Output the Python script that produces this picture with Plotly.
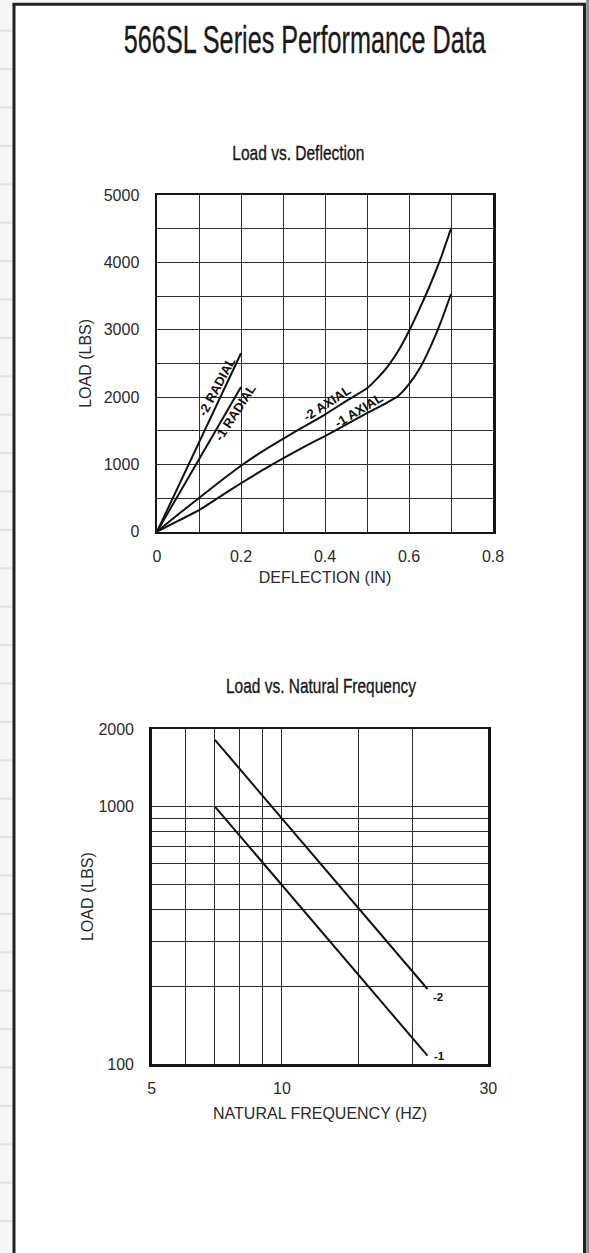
import numpy as np
import plotly.graph_objects as go

W, H = 589, 1253

# ---------------- data: Load vs. Deflection ----------------
defl_radial = [0.0, 0.2]
load_radial_2 = [0, 2650]
load_radial_1 = [0, 2150]

defl_axial_2 = [0, 0.05, 0.1, 0.15, 0.2, 0.25, 0.3, 0.35, 0.4, 0.45, 0.5, 0.525, 0.55, 0.575, 0.6, 0.625, 0.65, 0.675, 0.7]
load_axial_2 = [0, 255, 500, 745, 980, 1190, 1380, 1560, 1740, 1940, 2130, 2280, 2460, 2690, 2980, 3310, 3660, 4050, 4500]
defl_axial_1 = [0, 0.05, 0.1, 0.15, 0.2, 0.25, 0.3, 0.35, 0.4, 0.45, 0.5, 0.55, 0.575, 0.6, 0.625, 0.65, 0.675, 0.7]
load_axial_1 = [0, 160, 320, 520, 720, 910, 1090, 1260, 1420, 1590, 1760, 1925, 2020, 2190, 2420, 2730, 3100, 3530]

x1_ticks = [0, 0.1, 0.2, 0.3, 0.4, 0.5, 0.6, 0.7, 0.8]
x1_text = ["0", "", "0.2", "", "0.4", "", "0.6", "", "0.8"]
y1_ticks = [0, 500, 1000, 1500, 2000, 2500, 3000, 3500, 4000, 4500, 5000]
y1_text = ["0", "", "1000", "", "2000", "", "3000", "", "4000", "", "5000"]

# ---------------- data: Load vs. Natural Frequency ----------------
freq_1 = [7.0, 21.7]
load_freq_1 = [1000, 108]
freq_2 = [7.0, 21.7]
load_freq_2 = [1815, 196]

x2_ticks = [5, 6, 7, 8, 9, 10, 15, 20, 30]
x2_text = ["5", "", "", "", "", "10", "", "", "30"]
y2_ticks = [100, 200, 300, 400, 500, 600, 700, 800, 900, 1000, 2000]
y2_text = ["100", "", "", "", "", "", "", "", "", "1000", "2000"]

# curve labels: (text, x, y, angle)
labels_top = [("-2 RADIAL", 0.143, 2150, -62),
              ("-1 RADIAL", 0.186, 1770, -57),
              ("-2 AXIAL", 0.404, 1910, -33),
              ("-1 AXIAL", 0.480, 1795, -31)]
labels_bottom = [("-2", 22.9, 183), ("-1", 23.1, 108)]

TICK_FONT = dict(family="Liberation Sans, Arial, sans-serif", size=16, color="#2a2a2a")
COND = "Liberation Sans, Arial, sans-serif"

def px_x(p):
    return p / W

def px_y(p):
    return 1 - p / H

fig = go.Figure()
line_style = dict(color="#111111", width=2)
curve_style = dict(color="#111111", width=2, shape="spline", smoothing=0.6)

fig.add_trace(go.Scatter(x=defl_radial, y=load_radial_2, mode="lines", line=line_style, xaxis="x", yaxis="y"))
fig.add_trace(go.Scatter(x=defl_radial, y=load_radial_1, mode="lines", line=line_style, xaxis="x", yaxis="y"))
fig.add_trace(go.Scatter(x=defl_axial_2, y=load_axial_2, mode="lines", line=curve_style, xaxis="x", yaxis="y"))
fig.add_trace(go.Scatter(x=defl_axial_1, y=load_axial_1, mode="lines", line=curve_style, xaxis="x", yaxis="y"))

fig.add_trace(go.Scatter(x=freq_2, y=load_freq_2, mode="lines", line=line_style, xaxis="x2", yaxis="y2"))
fig.add_trace(go.Scatter(x=freq_1, y=load_freq_1, mode="lines", line=line_style, xaxis="x2", yaxis="y2"))

axis_common = dict(showgrid=True, gridcolor="#2e2e2e", gridwidth=1, zeroline=False,
                   showline=True, linecolor="#161616", linewidth=2.5, mirror=True,
                   ticks="", tickfont=TICK_FONT, fixedrange=True)

fig.update_layout(
    width=W, height=H,
    margin=dict(l=0, r=0, t=0, b=0, autoexpand=False),
    paper_bgcolor="#f6f6f6",
    plot_bgcolor="white",
    showlegend=False,
    xaxis=dict(domain=[px_x(157), px_x(493)], range=[0, 0.8], tickmode="array",
               tickvals=x1_ticks, ticktext=x1_text, anchor="y", ticklabelstandoff=9,
               title=dict(text="DEFLECTION (IN)", font=TICK_FONT, standoff=8), **axis_common),
    yaxis=dict(domain=[px_y(531.7), px_y(195)], range=[0, 5000], tickmode="array",
               tickvals=y1_ticks, ticktext=y1_text, anchor="x", ticklabelstandoff=12,
               title=dict(text="LOAD (LBS)", font=TICK_FONT, standoff=8), **axis_common),
    xaxis2=dict(domain=[px_x(151.7), px_x(488.3)], type="log",
                range=[np.log10(5), np.log10(30)], tickmode="array",
                tickvals=x2_ticks, ticktext=x2_text, anchor="y2", ticklabelstandoff=8,
                title=dict(text="NATURAL FREQUENCY (HZ)", font=TICK_FONT, standoff=12), **axis_common),
    yaxis2=dict(domain=[px_y(1064.3), px_y(729)], type="log",
                range=[2, np.log10(2000)], tickmode="array",
                tickvals=y2_ticks, ticktext=y2_text, anchor="x2", ticklabelstandoff=12,
                title=dict(text="LOAD (LBS)", font=TICK_FONT, standoff=1), **axis_common),
)

shapes = []
# faint ruled lines of the page behind, left of the frame
for k in range(33):
    yy = 30.7 + 38.4 * k
    shapes.append(dict(type="line", xref="paper", yref="paper", x0=0, x1=px_x(13),
                       y0=px_y(yy), y1=px_y(yy), line=dict(color="#e3e3e3", width=2), layer="below"))
# white sheet inside the frame
shapes.append(dict(type="rect", xref="paper", yref="paper", x0=px_x(14), x1=px_x(584.5),
                   y0=0, y1=px_y(4.3), fillcolor="white", line=dict(width=0), layer="below"))
# frame: left, top, right (sheet continues below)
frame = dict(color="#222222", width=3)
shapes.append(dict(type="line", xref="paper", yref="paper", x0=px_x(14), x1=px_x(14), y0=0, y1=px_y(4.3), line=frame, layer="below"))
shapes.append(dict(type="line", xref="paper", yref="paper", x0=px_x(12.5), x1=px_x(586), y0=px_y(4.3), y1=px_y(4.3), line=frame, layer="below"))
shapes.append(dict(type="line", xref="paper", yref="paper", x0=px_x(584.5), x1=px_x(584.5), y0=0, y1=px_y(4.3), line=frame, layer="below"))
shapes.append(dict(type="rect", xref="paper", yref="paper", x0=px_x(586.2), x1=1,
                   y0=0, y1=1, fillcolor="#8a8a8a", line=dict(width=0), layer="below"))
fig.update_layout(shapes=shapes)

annotations = []
annotations.append(dict(text="566SL Series Performance Data", xref="paper", yref="paper",
                        x=px_x(305), y=px_y(40), showarrow=False, xanchor="center", yanchor="middle",
                        font=dict(family=COND, size=38, color="#1a1a1a")))
annotations.append(dict(text="Load vs. Deflection", xref="paper", yref="paper",
                        x=px_x(298), y=px_y(153), showarrow=False, xanchor="center", yanchor="middle",
                        font=dict(family=COND, size=21, color="#151515")))
annotations.append(dict(text="Load vs. Natural Frequency", xref="paper", yref="paper",
                        x=px_x(321), y=px_y(685), showarrow=False, xanchor="center", yanchor="middle",
                        font=dict(family=COND, size=21, color="#151515")))
for t, xx, yy, ang in labels_top:
    annotations.append(dict(text="<b>%s</b>" % t, xref="x", yref="y", x=xx, y=yy, textangle=ang,
                            showarrow=False, font=dict(family="Liberation Sans, Arial, sans-serif",
                                                       size=13, color="#111111")))
for t, xx, yy in labels_bottom:
    annotations.append(dict(text="<b>%s</b>" % t, xref="x2", yref="y2", x=np.log10(xx), y=np.log10(yy),
                            showarrow=False, font=dict(family="Liberation Sans, Arial, sans-serif",
                                                       size=11.5, color="#111111")))
fig.update_layout(annotations=annotations)

# remove the default page margin and squeeze the condensed headings to their printed width
post = """
var st = document.createElement('style');
st.textContent = 'html,body{margin:0!important;padding:0!important;overflow:hidden!important;}';
document.head.appendChild(st);
var fit = {'566SL Series Performance Data': 362, 'Load vs. Deflection': 132, 'Load vs. Natural Frequency': 190};
document.querySelectorAll('text.annotation-text').forEach(function (t) {
    var w = fit[t.textContent];
    if (w) {
        t.setAttribute('textLength', w);
        t.setAttribute('lengthAdjust', 'spacingAndGlyphs');
        t.style.stroke = t.style.fill;
        t.style.strokeWidth = '0.35px';
    }
});
"""
fig.write_html("out.html", post_script=post, config={"displayModeBar": False, "staticPlot": True})
